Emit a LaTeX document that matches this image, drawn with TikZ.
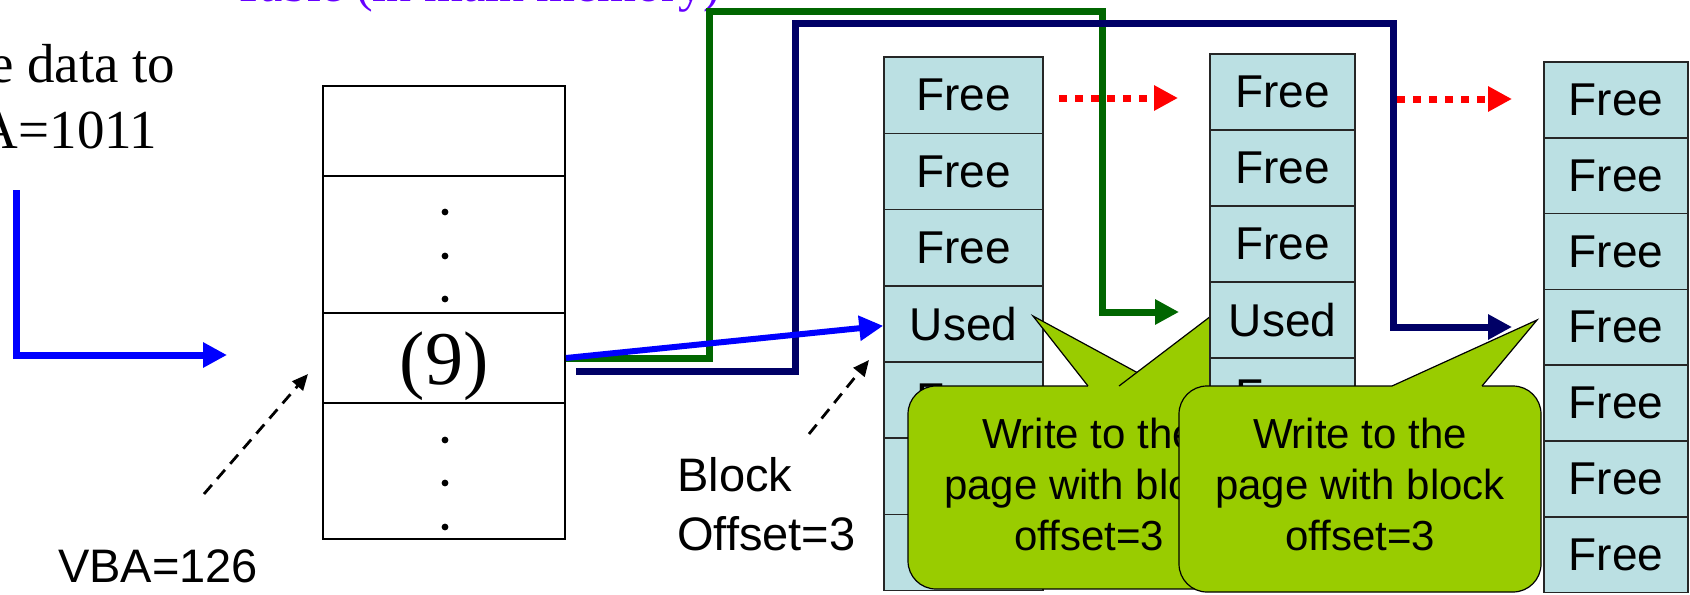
\documentclass[tikz,border=0pt]{standalone}
\usepackage{fontspec}
\setmainfont{Liberation Serif}
\setsansfont{Liberation Sans}
\usetikzlibrary{arrows.meta,calc}
\definecolor{cellblue}{RGB}{187,224,227}
\definecolor{callgreen}{RGB}{153,204,0}
\definecolor{linkgreen}{RGB}{0,102,0}
\definecolor{linknavy}{RGB}{0,0,102}
\definecolor{tabviolet}{RGB}{102,0,255}
\tikzset{
  cell/.style={draw=black!85, line width=0.8pt, fill=cellblue, inner sep=0pt,
    font=\sffamily\fontsize{23}{27}\selectfont},
  slot/.style={draw, line width=1pt, fill=white, minimum width=121pt, inner sep=0pt},
  bubble/.style={draw, line width=0.6pt, fill=callgreen, rounded corners=14pt,
    minimum width=181pt, minimum height=102pt, inner sep=0pt},
  bubbletext/.style={align=center, inner sep=0pt, font=\sffamily\fontsize{21}{25.5}\selectfont},
  bigtip/.style={-{Triangle[length=12pt,width=12pt]}},
  bluelink/.style={bigtip, blue, line width=3.5pt},
  greenlink/.style={bigtip, linkgreen, line width=3.5pt},
  navylink/.style={bigtip, linknavy, line width=3.5pt},
  freelink/.style={bigtip, red, line width=3.5pt, dash pattern=on 4pt off 4pt},
  hint/.style={-{Triangle[length=8pt,width=7pt]}, line width=1.4pt, dash pattern=on 6pt off 4pt}
}

\begin{document}
\begin{tikzpicture}[x=0.5pt,y=-0.5pt]
  \useasboundingbox (0,0) rectangle (1690,594);

  \node[anchor=base west, inner sep=0pt, text=tabviolet, font=\fontsize{25}{30}\selectfont] (ttl) at (233,2) {Table (in main memory)};
  \node[align=center, inner sep=0pt, font=\fontsize{27.5}{33}\selectfont] (req) at (33,97) {Write data to\\LBA=1011};
  \node[font=\sffamily\fontsize{23.5}{28}\selectfont] (vba) at (158,566) {VBA=126};
  \node[anchor=west, align=left, inner sep=0pt, font=\sffamily\fontsize{23.5}{29.5}\selectfont] (boff) at (677,504) {Block\\Offset=3};

  \node[slot, minimum height=45pt] (t1) at (444,131) {};
  \node[slot, minimum height=68.5pt] (t2) at (444,244.5) {};
  \node[slot, minimum height=45pt] (t3) at (444,358) {};
  \node[slot, minimum height=68pt] (t4) at (444,471) {};
  \node[font=\fontsize{38}{42}\selectfont] (nine) at (444,366) {(9)};
  \foreach \y in {212,256,299,440,483,527} {
    \fill (445,\y) circle[radius=1.7pt];
  }

  \foreach \t [count=\i] in {Free,Free,Free,Used,Free,Free,Free} {
    \node[cell, minimum width=79.5pt, minimum height=38.1pt] (a\i) at (963.5,19+76.2*\i) {\t};
  }

  \coordinate (q0) at (16,190);
  \coordinate (q1) at (227,355);
  \coordinate (g1) at (709,11);
  \coordinate (g2) at (1102,312);
  \coordinate (g3) at (1179,312);
  \coordinate (n0) at (576,371);
  \coordinate (n1) at (795,23);
  \coordinate (n2) at (1393,327);
  \coordinate (n3) at (1512,327);
  \coordinate (r1) at (1059,98);
  \coordinate (r2) at (1178,98);
  \coordinate (r3) at (1397,99);
  \coordinate (r4) at (1512,99);
  \coordinate (v0) at (204,494);
  \coordinate (v1) at (308,374);
  \coordinate (b0) at (809,434);
  \coordinate (b1) at (869,360);

  \draw[bluelink] (q0) |- (q1);
  \draw[greenlink] (t3.east) -| (g1) -| (g2) -- (g3);
  \draw[navylink] (n0) -| (n1) -| (n2) -- (n3);
  \draw[bluelink, line width=3pt] (t3.east) -- ($(a4.west)+(0,2)$);
  \draw[freelink] (r1) -- (r2);
  \draw[freelink] (r3) -- (r4);
  \draw[hint] (v0) -- (v1);
  \draw[hint] (b0) -- (b1);

  \node[bubble, minimum height=101.5pt] (c1) at (1089,487.5) {};
  \node[bubbletext] (c1t) at (1089,484) {Write to the\\page with block\\offset=3};
  \coordinate (p1) at (1088,386);
  \coordinate (p1t) at (1033,316);
  \coordinate (p1r) at (1162,386);
  \fill[callgreen] (p1) -- (p1t) -- (p1r) -- ++(0,3) -- ($(p1)+(0,3)$) -- cycle;
  \draw[line width=0.6pt] (p1) -- (p1t) -- (p1r);
  \coordinate (p2) at (1119,386);
  \coordinate (p2t) at (1211,316);
  \coordinate (p2r) at (1250,386);
  \fill[callgreen] (p2) -- (p2t) -- (p2r) -- ++(0,3) -- ($(p2)+(0,3)$) -- cycle;
  \draw[line width=0.6pt] (p2) -- (p2t) -- (p2r);

  \foreach \t [count=\i] in {Free,Free,Free,Used,Free,Free,Free} {
    \node[cell, minimum width=72.5pt, minimum height=38pt] (b\i) at (1282.5,16+76*\i) {\t};
  }

  \node[bubble, minimum height=103pt] (c2) at (1360,489) {};
  \node[bubbletext] (c2t) at (1360,484) {Write to the\\page with block\\offset=3};
  \coordinate (p3) at (1392,386);
  \coordinate (p3t) at (1537,320);
  \coordinate (p3r) at (1482,386);
  \fill[callgreen] (p3) -- (p3t) -- (p3r) -- ++(0,3) -- ($(p3)+(0,3)$) -- cycle;
  \draw[line width=0.6pt] (p3) -- (p3t) -- (p3r);

  \foreach \t [count=\i] in {Free,Free,Free,Free,Free,Free,Free} {
    \node[cell, minimum width=72pt, minimum height=37.9pt] (d\i) at (1616,24+75.8*\i) {\t};
  }
\end{tikzpicture}
\end{document}
